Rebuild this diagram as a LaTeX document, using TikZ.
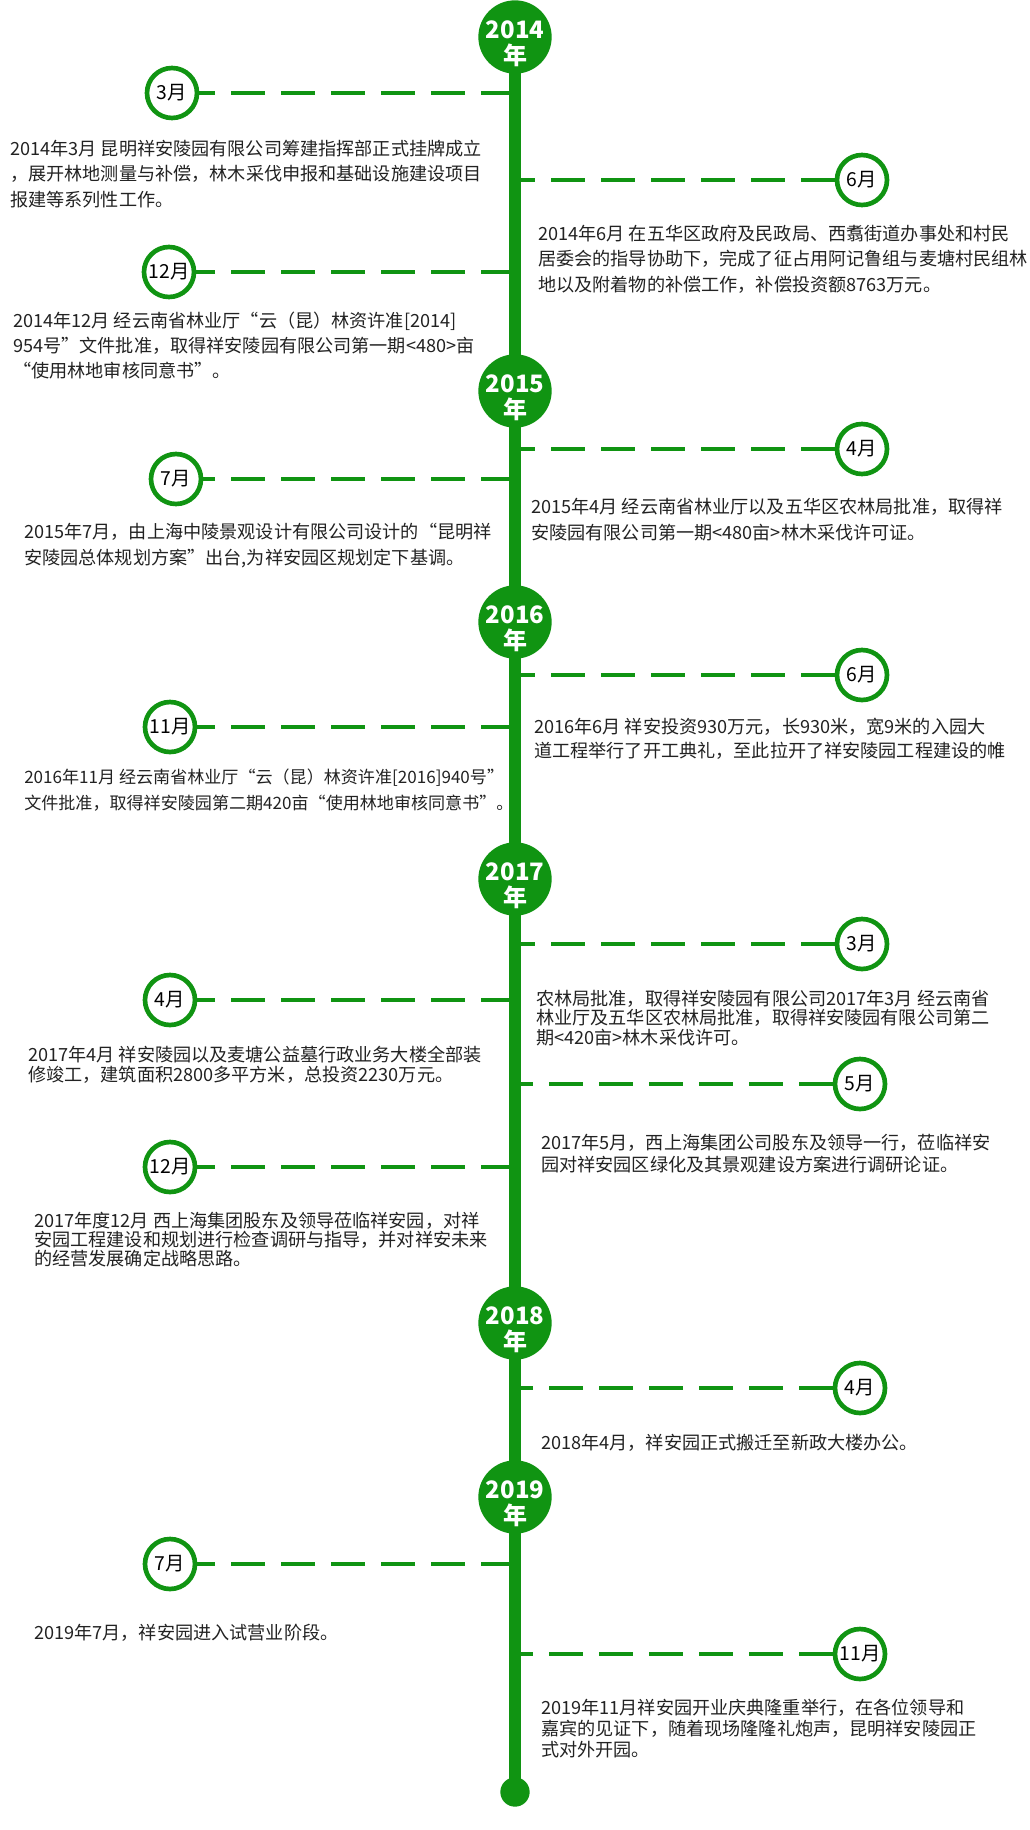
\documentclass[tikz,border=0pt]{standalone}
\usepackage{fontspec}
\setmainfont{Noto Sans CJK SC}
\definecolor{leaf}{RGB}{16,148,18}
\definecolor{ink}{RGB}{34,34,34}
\begin{document}
\begin{tikzpicture}[x=0.75pt, y=-0.75pt,
  year/.style={circle, fill=leaf, minimum size=55pt, inner sep=0pt},
  yeartext/.style={text=white, align=center, inner sep=0pt, font=\bfseries\fontsize{18}{20}\selectfont},
  month/.style={circle, draw=leaf, line width=3.5pt, fill=white, minimum size=37.5pt, inner sep=0pt, font=\fontsize{14.5}{16}\selectfont},
  dot/.style={circle, fill=leaf, minimum size=22pt, inner sep=0pt},
  spine/.style={leaf, line width=8.5pt, shorten <=-2pt, shorten >=-2pt},
  link/.style={leaf, line width=3.4pt, dash pattern=on 25.5pt off 12pt},
  note/.style={anchor=base west, align=left, inner sep=0pt, text=ink, font=\fontsize{13.6}{#1}\selectfont},
  note/.default=19]

        \useasboundingbox (0,0) rectangle (1030,1830);

        \node[year] (y14) at (515,37) {};
        \node[year] (y15) at (515,391) {};
        \node[year] (y16) at (515,622) {};
        \node[year] (y17) at (515,879) {};
        \node[year] (y18) at (515,1323) {};
        \node[year] (y19) at (515,1497) {};
        \node[dot]  (fin) at (515,1792) {};
        \draw[spine] (y14) -- (y15);
        \draw[spine] (y15) -- (y16);
        \draw[spine] (y16) -- (y17);
        \draw[spine] (y17) -- (y18);
        \draw[spine] (y18) -- (y19);
        \draw[spine] (y19) -- (fin);
        \node[yeartext] (t14) at ([yshift=-5pt]y14) {2014\\年};
        \node[yeartext] (t15) at ([yshift=-5pt]y15) {2015\\年};
        \node[yeartext] (t16) at ([yshift=-5pt]y16) {2016\\年};
        \node[yeartext] (t17) at ([yshift=-5pt]y17) {2017\\年};
        \node[yeartext] (t18) at ([yshift=-5pt]y18) {2018\\年};
        \node[yeartext] (t19) at ([yshift=-5pt]y19) {2019\\年};

        \node[month] (m1)  at (172,93)   {3月};
        \node[month] (m2)  at (862,180)  {6月};
        \node[month] (m3)  at (169,272)  {12月};
        \node[month] (m4)  at (862,449)  {4月};
        \node[month] (m5)  at (176,479)  {7月};
        \node[month] (m6)  at (862,675)  {6月};
        \node[month] (m7)  at (170,727)  {11月};
        \node[month] (m8)  at (862,944)  {3月};
        \node[month] (m9)  at (170,1000) {4月};
        \node[month] (m10) at (860,1084) {5月};
        \node[month] (m11) at (170,1167) {12月};
        \node[month] (m12) at (860,1388) {4月};
        \node[month] (m13) at (170,1564) {7月};
        \node[month] (m14) at (860,1654) {11月};
        \draw[link] (m1 -| y14) -- (m1);
        \draw[link] (m2) -- (m2 -| y14);
        \draw[link] (m3 -| y14) -- (m3);
        \draw[link] (m4) -- (m4 -| y14);
        \draw[link] (m5 -| y14) -- (m5);
        \draw[link] (m6) -- (m6 -| y14);
        \draw[link] (m7 -| y14) -- (m7);
        \draw[link] (m8) -- (m8 -| y14);
        \draw[link] (m9 -| y14) -- (m9);
        \draw[link] (m10) -- (m10 -| y14);
        \draw[link] (m11 -| y14) -- (m11);
        \draw[link] (m12) -- (m12 -| y14);
        \draw[link] (m13 -| y14) -- (m13);
        \draw[link] (m14) -- (m14 -| y14);

        \node[note] (n1) at (10,206) {2014年3月 昆明祥安陵园有限公司筹建指挥部正式挂牌成立\\，展开林地测量与补偿，林木采伐申报和基础设施建设项目\\报建等系列性工作。};
        \node[note] (n2) at (538,291) {2014年6月 在五华区政府及民政局、西翥街道办事处和村民\\居委会的指导协助下，完成了征占用阿记鲁组与麦塘村民组林\\地以及附着物的补偿工作，补偿投资额8763万元。};
        \node[note=18.4] (n3) at (13,377) {2014年12月 经云南省林业厅“云（昆）林资许准[2014]\\954号”文件批准，取得祥安陵园有限公司第一期<480>亩\\“使用林地审核同意书”。};
        \node[note=19.5] (n4) at (531,539) {2015年4月 经云南省林业厅以及五华区农林局批准，取得祥\\安陵园有限公司第一期<480亩>林木采伐许可证。};
        \node[note] (n5) at (24,564) {2015年7月，由上海中陵景观设计有限公司设计的“昆明祥\\安陵园总体规划方案”出台,为祥安园区规划定下基调。};
        \node[note=18] (n6) at (534,757) {2016年6月 祥安投资930万元，长930米，宽9米的入园大\\道工程举行了开工典礼，至此拉开了祥安陵园工程建设的帷};
        \node[note, font=\fontsize{12.8}{19}\selectfont] (n7) at (24,809) {2016年11月 经云南省林业厅“云（昆）林资许准[2016]940号”\\文件批准，取得祥安陵园第二期420亩“使用林地审核同意书”。};
        \node[note=14.6] (n8) at (536,1044) {农林局批准，取得祥安陵园有限公司2017年3月 经云南省\\林业厅及五华区农林局批准，取得祥安陵园有限公司第二\\期<420亩>林木采伐许可。};
        \node[note=14.6] (n9) at (28,1081) {2017年4月 祥安陵园以及麦塘公益墓行政业务大楼全部装\\修竣工，建筑面积2800多平方米，总投资2230万元。};
        \node[note=16.5] (n10) at (541,1171) {2017年5月，西上海集团公司股东及领导一行，莅临祥安\\园对祥安园区绿化及其景观建设方案进行调研论证。};
        \node[note=14.25] (n11) at (34,1265) {2017年度12月 西上海集团股东及领导莅临祥安园，对祥\\安园工程建设和规划进行检查调研与指导，并对祥安未来\\的经营发展确定战略思路。};
        \node[note] (n12) at (541,1449) {2018年4月，祥安园正式搬迁至新政大楼办公。};
        \node[note] (n13) at (34,1639) {2019年7月，祥安园进入试营业阶段。};
        \node[note=15.75] (n14) at (541,1756) {2019年11月祥安园开业庆典隆重举行，在各位领导和\\嘉宾的见证下，随着现场隆隆礼炮声，昆明祥安陵园正\\式对外开园。};

    \end{tikzpicture}
\end{document}
